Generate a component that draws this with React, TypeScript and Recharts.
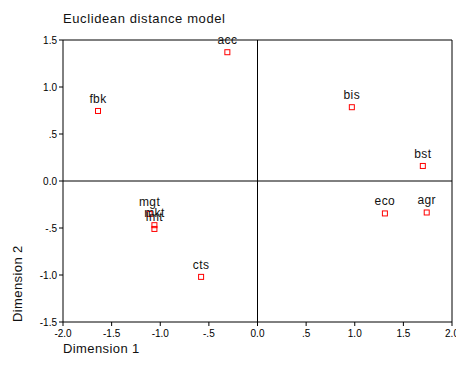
import { ScatterChart, Scatter, XAxis, YAxis, ReferenceLine } from "recharts";

const names = ["acc", "fbk", "bis", "bst", "eco", "agr", "cts", "mgt", "mkt", "lmt"];
const dim1 = [-0.31, -1.64, 0.97, 1.7, 1.31, 1.74, -0.58, -1.11, -1.06, -1.06];
const dim2 = [1.37, 0.745, 0.785, 0.16, -0.345, -0.335, -1.02, -0.35, -0.47, -0.51];
const xTicks = [-2, -1.5, -1, -0.5, 0, 0.5, 1, 1.5, 2];
const yTicks = [-1.5, -1, -0.5, 0, 0.5, 1, 1.5];

const points = names.map((name, i) => ({ name, x: dim1[i], y: dim2[i] }));

const font = '"Liberation Sans", Arial, sans-serif';

// SPSS style: ".5" and "-.5", but "0.0"
const fmt = (v: number) => {
    if (v === 0) return "0.0";
    const s = v.toFixed(1);
    if (Math.abs(v) < 1) return s.replace("0.", ".");
    return s;
};

const Marker = (props: any) => {
    const { cx, cy, payload } = props;
    return (
        <g>
            <rect x={cx - 2.5} y={cy - 2.5} width={5} height={5} fill="none" stroke="#ff0000" strokeWidth={1} />
            <text
                x={cx}
                y={cy - 8}
                textAnchor="middle"
                fontSize={12}
                fontFamily={font}
                letterSpacing={0.4}
                fill="#111"
            >
                {payload.name}
            </text>
        </g>
    );
};

const tick = { fontSize: 10, fill: "#000", fontFamily: font };

export default function App() {
    return (
        <div style={{ position: "absolute", left: 0, top: 0, width: 456, height: 374, background: "#fff", fontFamily: font }}>
            <div style={{ position: "absolute", left: 63, top: 11, fontSize: 13, letterSpacing: 0.6, color: "#111" }}>
                Euclidean distance model
            </div>
            <ScatterChart width={456} height={374} margin={{ top: 40, right: 4, bottom: 22, left: 23 }}>
                <XAxis
                    type="number"
                    dataKey="x"
                    domain={[-2, 2]}
                    ticks={xTicks}
                    tickFormatter={fmt}
                    height={30}
                    stroke="#000"
                    tick={{ ...tick, dy: 2 }}
                    tickSize={4}
                    interval={0}
                />
                <YAxis
                    type="number"
                    dataKey="y"
                    domain={[-1.5, 1.5]}
                    ticks={yTicks}
                    tickFormatter={fmt}
                    width={40}
                    stroke="#000"
                    tick={tick}
                    tickSize={4}
                    interval={0}
                />
                <ReferenceLine x={0} stroke="#000" />
                <ReferenceLine y={0} stroke="#000" />
                <ReferenceLine x={2} stroke="#000" />
                <ReferenceLine y={1.5} stroke="#000" />
                <Scatter data={points} shape={<Marker />} isAnimationActive={false} />
            </ScatterChart>
            <div style={{ position: "absolute", left: 63, top: 341, fontSize: 13, letterSpacing: 0.4, color: "#111" }}>
                Dimension 1
            </div>
            <div
                style={{
                    position: "absolute",
                    left: 10,
                    top: 322,
                    fontSize: 13,
                    letterSpacing: 0.4,
                    color: "#111",
                    transform: "rotate(-90deg)",
                    transformOrigin: "left top",
                    whiteSpace: "nowrap",
                }}
            >
                Dimension 2
            </div>
        </div>
    );
}
